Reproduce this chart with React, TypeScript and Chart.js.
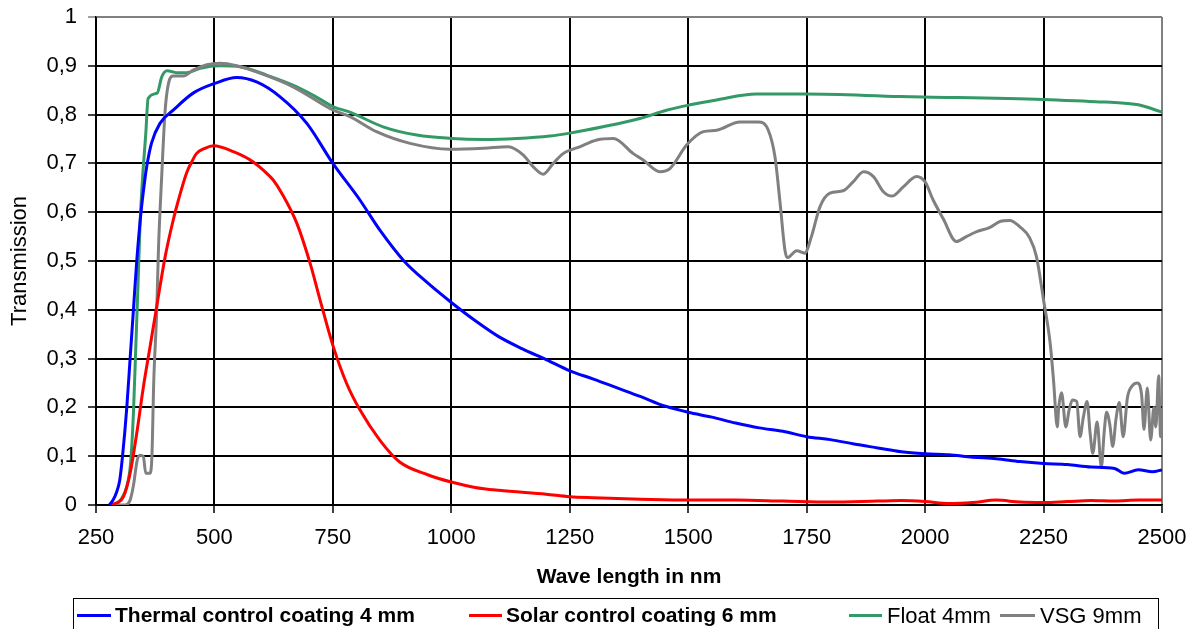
import { useEffect, useRef } from 'react';
import { Chart, registerables } from 'chart.js';

Chart.register(...registerables);

// ---------- data ----------
const xTicks = [250, 500, 750, 1000, 1250, 1500, 1750, 2000, 2250, 2500];
const yTicks = [0, 0.1, 0.2, 0.3, 0.4, 0.5, 0.6, 0.7, 0.8, 0.9, 1];

const seriesNames = [
  'Thermal control coating 4 mm',
  'Solar control coating 6 mm',
  'Float 4mm',
  'VSG 9mm',
];

const thermalNm = [278, 286, 293, 300, 306, 315, 322, 329, 336, 345, 353, 357, 367, 385, 413, 455, 501, 547, 589, 638, 695, 750, 807, 850, 900, 950, 1000, 1050, 1100, 1150, 1200, 1250, 1300, 1350, 1400, 1450, 1500, 1550, 1600, 1650, 1700, 1750, 1800, 1850, 1900, 1950, 2000, 2050, 2100, 2150, 2200, 2250, 2300, 2350, 2400, 2420, 2450, 2480, 2500];
const thermalT = [0, 0.01, 0.025, 0.05, 0.1, 0.2, 0.3, 0.4, 0.5, 0.6, 0.666, 0.693, 0.741, 0.782, 0.809, 0.844, 0.864, 0.876, 0.867, 0.837, 0.782, 0.7, 0.625, 0.562, 0.5, 0.455, 0.415, 0.378, 0.345, 0.32, 0.298, 0.275, 0.258, 0.24, 0.222, 0.203, 0.19, 0.18, 0.168, 0.158, 0.151, 0.14, 0.134, 0.125, 0.117, 0.109, 0.105, 0.103, 0.098, 0.095, 0.089, 0.085, 0.083, 0.078, 0.075, 0.065, 0.072, 0.068, 0.072];

const solarNm = [280, 295, 308, 322, 336, 350, 364, 378, 396, 413, 424, 441, 452, 462, 480, 498, 540, 582, 610, 624, 642, 674, 702, 723, 751, 779, 807, 849, 891, 950, 1000, 1050, 1100, 1200, 1250, 1300, 1400, 1500, 1600, 1700, 1800, 1900, 1950, 2000, 2050, 2100, 2150, 2200, 2250, 2300, 2350, 2400, 2450, 2500];
const solarT = [0, 0.005, 0.017, 0.065, 0.147, 0.242, 0.324, 0.406, 0.509, 0.584, 0.625, 0.68, 0.703, 0.72, 0.731, 0.736, 0.724, 0.703, 0.68, 0.666, 0.639, 0.577, 0.495, 0.42, 0.324, 0.249, 0.195, 0.133, 0.088, 0.062, 0.047, 0.036, 0.03, 0.022, 0.017, 0.015, 0.012, 0.01, 0.01, 0.008, 0.006, 0.008, 0.009, 0.007, 0.003, 0.005, 0.01, 0.006, 0.005, 0.007, 0.009, 0.008, 0.01, 0.01];

const floatNm = [292, 305, 315, 323, 329, 334, 339, 343, 348, 355, 360, 379, 389, 400, 420, 441, 470, 512, 554, 610, 674, 708, 751, 786, 856, 927, 1001, 1068, 1138, 1208, 1250, 1320, 1398, 1454, 1504, 1560, 1644, 1750, 1947, 2250, 2369, 2400, 2450, 2500];
const floatT = [0, 0.015, 0.038, 0.086, 0.188, 0.324, 0.461, 0.577, 0.666, 0.76, 0.833, 0.844, 0.878, 0.89, 0.886, 0.886, 0.895, 0.9, 0.898, 0.881, 0.857, 0.84, 0.816, 0.805, 0.775, 0.758, 0.751, 0.749, 0.751, 0.756, 0.762, 0.775, 0.792, 0.809, 0.82, 0.83, 0.842, 0.842, 0.837, 0.831, 0.826, 0.825, 0.82, 0.805];

const vsgNm = [293, 311, 322, 329, 337, 343, 350, 355, 364, 368, 372, 378, 382, 388, 396, 403, 413, 434, 455, 484, 512, 547, 596, 666, 751, 786, 842, 913, 997, 1068, 1120, 1152, 1173, 1194, 1215, 1236, 1271, 1307, 1342, 1384, 1405, 1440, 1462, 1497, 1532, 1560, 1609, 1648, 1669, 1683, 1694, 1704, 1709, 1729, 1746, 1760, 1778, 1799, 1827, 1848, 1870, 1891, 1912, 1930, 1954, 1982, 2000, 2017, 2038, 2066, 2087, 2109, 2137, 2158, 2179, 2200, 2221, 2235, 2250, 2264, 2271, 2279, 2282, 2288, 2297, 2304, 2311, 2320, 2327, 2334, 2342, 2348, 2354, 2363, 2372, 2378, 2383, 2390, 2396, 2403, 2410, 2418, 2427, 2438, 2448, 2457, 2462, 2469, 2476, 2483, 2487, 2493, 2497, 2500];
const vsgT = [0, 0, 0.01, 0.04, 0.092, 0.102, 0.099, 0.065, 0.065, 0.1, 0.256, 0.393, 0.529, 0.66, 0.809, 0.864, 0.879, 0.879, 0.891, 0.902, 0.905, 0.9, 0.885, 0.857, 0.809, 0.796, 0.765, 0.741, 0.729, 0.731, 0.734, 0.717, 0.693, 0.678, 0.7, 0.72, 0.734, 0.748, 0.751, 0.72, 0.707, 0.683, 0.69, 0.738, 0.765, 0.768, 0.785, 0.785, 0.768, 0.714, 0.618, 0.523, 0.507, 0.521, 0.516, 0.55, 0.611, 0.639, 0.644, 0.662, 0.683, 0.673, 0.642, 0.633, 0.652, 0.673, 0.662, 0.625, 0.587, 0.54, 0.55, 0.56, 0.569, 0.581, 0.583, 0.57, 0.547, 0.509, 0.42, 0.331, 0.256, 0.16, 0.2, 0.23, 0.16, 0.195, 0.215, 0.212, 0.14, 0.18, 0.212, 0.15, 0.106, 0.17, 0.078, 0.15, 0.19, 0.164, 0.12, 0.177, 0.21, 0.14, 0.22, 0.245, 0.25, 0.225, 0.155, 0.24, 0.133, 0.2, 0.16, 0.265, 0.14, 0.19];

const seriesColors = ['#0000FF', '#FF0000', '#339966', '#808080'];

// ---------- helpers ----------
const FONT = '"Liberation Sans", Arial, Helvetica, sans-serif';
const pts = (xs: number[], ys: number[]) => xs.map((x, i) => ({ x, y: ys[i] }));
const fmtY = (v: number) => {
  if (Math.abs(v) < 1e-9) return '0';
  if (Math.abs(v - 1) < 1e-9) return '1';
  return v.toFixed(1).replace('.', ',');
};

// legend layout (positions only)
const legendBox = { x: 73.5, y: 598.5, w: 1085, h: 60 };
const legendItems = [
  { series: 0, x0: 77, x1: 111, tx: 115, bold: true },
  { series: 1, x0: 469, x1: 502, tx: 506, bold: true },
  { series: 2, x0: 849, x1: 882, tx: 887, bold: false },
  { series: 3, x0: 1000, x1: 1035, tx: 1040, bold: false },
];

const legendPlugin = {
  id: 'boxedLegend',
  afterDraw(chart: any) {
    const ctx = chart.ctx as CanvasRenderingContext2D;
    ctx.save();
    ctx.strokeStyle = '#000';
    ctx.lineWidth = 1;
    ctx.strokeRect(legendBox.x, legendBox.y, legendBox.w, legendBox.h);
    const ly = 615.5;
    legendItems.forEach((it) => {
      ctx.strokeStyle = seriesColors[it.series];
      ctx.lineWidth = 3;
      ctx.beginPath();
      ctx.moveTo(it.x0, ly);
      ctx.lineTo(it.x1, ly);
      ctx.stroke();
      ctx.fillStyle = '#000';
      ctx.textBaseline = 'middle';
      ctx.textAlign = 'left';
      ctx.font = it.bold ? `bold 21px ${FONT}` : `22px ${FONT}`;
      ctx.fillText(seriesNames[it.series], it.tx, ly + 1);
    });
    ctx.restore();
  },
};

export default function App() {
  const ref = useRef<HTMLCanvasElement | null>(null);

  useEffect(() => {
    if (!ref.current) return;
    const datasets = [
      { label: seriesNames[0], data: pts(thermalNm, thermalT), borderColor: seriesColors[0], order: 0 },
      { label: seriesNames[1], data: pts(solarNm, solarT), borderColor: seriesColors[1], order: 1 },
      { label: seriesNames[3], data: pts(vsgNm, vsgT), borderColor: seriesColors[3], order: 2 },
      { label: seriesNames[2], data: pts(floatNm, floatT), borderColor: seriesColors[2], order: 3 },
    ].map((d) => ({
      ...d,
      borderWidth: 3,
      pointRadius: 0,
      fill: false,
      cubicInterpolationMode: 'monotone' as const,
    }));

    const chart = new Chart(ref.current, {
      type: 'line',
      data: { datasets },
      options: {
        responsive: false,
        animation: false,
        devicePixelRatio: 1,
        layout: { padding: { left: 0, top: 17, right: 40, bottom: 34 } },
        plugins: {
          legend: { display: false },
          tooltip: { enabled: false },
        },
        scales: {
          x: {
            type: 'linear',
            min: 250,
            max: 2500,
            afterBuildTicks: (s: any) => { s.ticks = xTicks.map((v) => ({ value: v })); },
            afterFit: (s: any) => { s.height = 90; s.paddingLeft = 0; s.paddingRight = 0; },
            ticks: {
              font: { size: 22, family: FONT },
              color: '#000',
              padding: 12,
              maxRotation: 0,
              autoSkip: false,
              callback: (v: any) => String(v),
            },
            grid: {
              color: (c: any) => (c.tick && c.tick.value === 2500 ? '#808080' : '#000'),
              lineWidth: 2,
              tickLength: 8,
              tickColor: '#000',
              tickWidth: 1.5,
            },
            border: { display: true, color: '#000', width: 1.5 },
            title: {
              display: true,
              text: 'Wave length in nm',
              font: { size: 21, weight: 'bold', family: FONT },
              color: '#000',
              padding: { top: 0, bottom: 5 },
            },
          },
          y: {
            type: 'linear',
            min: 0,
            max: 1,
            afterBuildTicks: (s: any) => { s.ticks = yTicks.map((v) => ({ value: v })); },
            afterFit: (s: any) => { s.width = 96; s.paddingTop = 0; s.paddingBottom = 0; },
            ticks: {
              font: { size: 22, family: FONT },
              color: '#000',
              padding: 11,
              autoSkip: false,
              callback: (v: any) => fmtY(Number(v)),
            },
            grid: {
              color: (c: any) => (c.tick && Math.abs(c.tick.value - 1) < 1e-9 ? '#808080' : '#000'),
              lineWidth: 2,
              tickLength: 8,
              tickColor: (c: any) => (c.tick && Math.abs(c.tick.value - 1) < 1e-9 ? '#808080' : '#000'),
              tickWidth: 1.5,
            },
            border: { display: true, color: '#000', width: 1.5 },
            title: {
              display: true,
              text: 'Transmission',
              font: { size: 22, family: FONT },
              color: '#000',
              padding: { top: 7, bottom: 0 },
            },
          },
        },
      },
      plugins: [legendPlugin],
    });
    return () => chart.destroy();
  }, []);

  return (
    <div style={{ position: 'absolute', left: 0, top: 0, width: 1202, height: 629, background: '#fff', overflow: 'hidden' }}>
      <canvas ref={ref} width={1202} height={629} style={{ display: 'block', width: 1202, height: 629 }} />
    </div>
  );
}
